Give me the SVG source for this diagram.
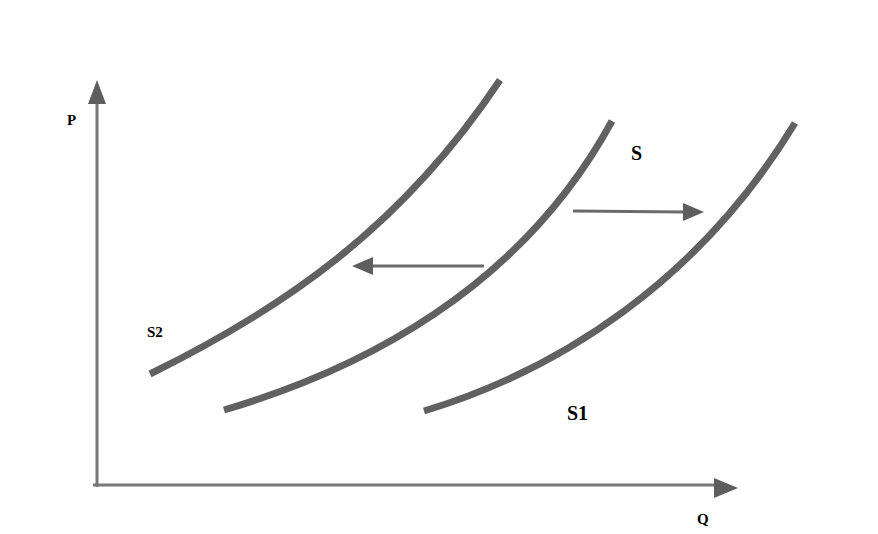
<svg xmlns="http://www.w3.org/2000/svg" width="878" height="534" viewBox="0 0 878 534">
<style>
.ax{stroke:#777;stroke-width:3;fill:none}
.cv{stroke:#616161;stroke-width:7;fill:none;stroke-linecap:butt}
.ar{stroke:#6a6a6a;stroke-width:3;fill:none}
.hd{fill:#5e5e5e}
.lb{font-family:"Liberation Serif",serif;font-weight:bold;fill:#000}
</style>
<rect width="878" height="534" fill="#fff"/>
<g id="axes">
<line class="ax" x1="97" y1="487" x2="97" y2="100"/>
<polygon class="hd" points="97,80 88,104 106,104"/>
<line class="ax" x1="93" y1="485" x2="718" y2="485"/>
<polygon class="hd" points="738,488 714,478 714,498"/>
</g>
<g id="curve-S2"><path class="cv" d="M150,374 C280,310 400,230 500,80"/></g>
<g id="curve-S"><path class="cv" d="M224,410 C360,370 520,290 612,121"/></g>
<g id="curve-S1"><path class="cv" d="M424,411 C560,370 700,280 795,123"/></g>
<g id="connectors">
<line class="ar" x1="573" y1="211" x2="686" y2="212"/>
<polygon class="hd" points="704,212 683,203 683,221"/>
<line class="ar" x1="484" y1="266" x2="370" y2="266"/>
<polygon class="hd" points="352,266 373,257 373,275"/>
</g>
<g id="labels">
<text class="lb" x="67" y="125" font-size="15">P</text>
<text class="lb" x="697" y="524" font-size="15">Q</text>
<text class="lb" x="631" y="160" font-size="20">S</text>
<text class="lb" x="567" y="420" font-size="20">S1</text>
<text class="lb" x="147" y="337" font-size="15">S2</text>
</g>
</svg>
